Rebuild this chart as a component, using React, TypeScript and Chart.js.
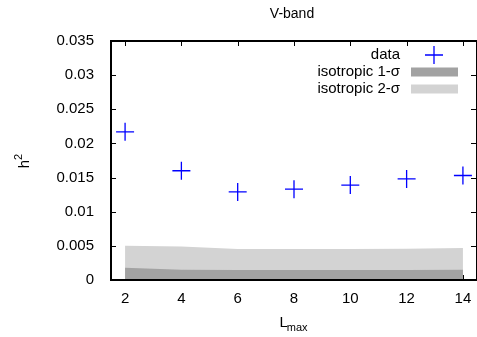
import React, { useEffect, useRef } from "react";
import { Chart, registerables } from "chart.js";

Chart.register(...registerables);

const chartTitle = "V-band";
const lmax = [2, 4, 6, 8, 10, 12, 14];
const dataH2 = [0.0217, 0.016, 0.0129, 0.0133, 0.0139, 0.0148, 0.0153];
const iso1Sigma = [0.0018, 0.0015, 0.00146, 0.00146, 0.00146, 0.00146, 0.0015];
const iso2Sigma = [0.005, 0.0049, 0.00455, 0.00455, 0.00455, 0.00458, 0.0047];
const xTicks = [2, 4, 6, 8, 10, 12, 14];
const yTicks = [0, 0.005, 0.01, 0.015, 0.02, 0.025, 0.03, 0.035];
const legendLabels = ["data", "isotropic 1-σ", "isotropic 2-σ"];
const yTitle = "h";
const yTitleSup = "2";
const xTitle = "L";
const xTitleSub = "max";

const FONT = "'Liberation Sans', Arial, sans-serif";
const BLUE = "#0000ff";
const DARK = "#a2a2a2";
const LIGHT = "#d3d3d3";

function drawCross(ctx: CanvasRenderingContext2D, x: number, y: number, r: number) {
  ctx.save();
  ctx.strokeStyle = BLUE;
  ctx.lineWidth = 1.3;
  ctx.beginPath();
  ctx.moveTo(x - r, y);
  ctx.lineTo(x + r, y);
  ctx.moveTo(x, y - r);
  ctx.lineTo(x, y + r);
  ctx.stroke();
  ctx.restore();
}

const decor = {
  id: "decor",
  beforeDatasetsDraw(chart: any) {
    const { ctx, chartArea: a, scales } = chart;
    ctx.save();
    ctx.strokeStyle = "#000";
    ctx.lineWidth = 1;
    const tl = 5;
    ctx.beginPath();
    for (const v of yTicks) {
      const y = Math.round(scales.y.getPixelForValue(v)) + 0.5;
      ctx.moveTo(a.left, y);
      ctx.lineTo(a.left + tl, y);
      ctx.moveTo(a.right, y);
      ctx.lineTo(a.right - tl - 1, y);
    }
    for (const v of xTicks) {
      const x = Math.round(scales.x.getPixelForValue(v)) + 0.5;
      ctx.moveTo(x, a.top);
      ctx.lineTo(x, a.top + tl);
      ctx.moveTo(x, a.bottom);
      ctx.lineTo(x, a.bottom - tl);
    }
    ctx.stroke();
    ctx.restore();
  },
  afterDatasetsDraw(chart: any) {
    const { ctx, chartArea: a } = chart;
    ctx.save();
    ctx.strokeStyle = "#000";
    ctx.lineWidth = 2;
    ctx.strokeRect(a.left, a.top, a.right - a.left, a.bottom - a.top);
    ctx.restore();
  },
  afterDraw(chart: any) {
    const { ctx, scales } = chart;
    ctx.save();
    ctx.fillStyle = "#000";
    ctx.font = `14px ${FONT}`;
    ctx.textAlign = "center";
    ctx.textBaseline = "middle";
    ctx.fillText(chartTitle, 292, 14);

    // x tick labels
    ctx.font = `15px ${FONT}`;
    ctx.textAlign = "center";
    ctx.textBaseline = "alphabetic";
    for (const v of xTicks) {
      ctx.fillText(String(v), scales.x.getPixelForValue(v), 303);
    }

    ctx.save();
    ctx.translate(24, 161);
    ctx.rotate(-Math.PI / 2);
    ctx.font = `15px ${FONT}`;
    ctx.textAlign = "left";
    ctx.textBaseline = "alphabetic";
    const hw = ctx.measureText(yTitle).width;
    ctx.font = `11px ${FONT}`;
    const sw = ctx.measureText(yTitleSup).width;
    const start = -(hw + sw) / 2;
    ctx.font = `15px ${FONT}`;
    ctx.fillText(yTitle, start, 5);
    ctx.font = `11px ${FONT}`;
    ctx.fillText(yTitleSup, start + hw, -2);
    ctx.restore();

    ctx.font = `15px ${FONT}`;
    ctx.textAlign = "left";
    ctx.textBaseline = "alphabetic";
    const lw = ctx.measureText(xTitle).width;
    ctx.font = `11px ${FONT}`;
    const mw = ctx.measureText(xTitleSub).width;
    const xs = 294 - (lw + mw) / 2;
    ctx.font = `15px ${FONT}`;
    ctx.fillText(xTitle, xs, 327);
    ctx.font = `11px ${FONT}`;
    ctx.fillText(xTitleSub, xs + lw - 1, 331);

    ctx.font = `15px ${FONT}`;
    ctx.textAlign = "right";
    ctx.textBaseline = "middle";
    const rows = [55, 72, 89];
    legendLabels.forEach((lab, i) => {
      ctx.fillStyle = "#000";
      ctx.fillText(lab, 400, rows[i]);
    });
    drawCross(ctx, 434, rows[0], 9);
    ctx.fillStyle = DARK;
    ctx.fillRect(411, rows[1] - 4.5, 47, 9);
    ctx.fillStyle = LIGHT;
    ctx.fillRect(411, rows[2] - 4.5, 47, 9);
    ctx.restore();
  },
};

export default function App() {
  const ref = useRef<HTMLCanvasElement | null>(null);
  useEffect(() => {
    if (!ref.current) return;
    const chart = new Chart(ref.current, {
      type: "line",
      data: {
        datasets: [
          {
            label: legendLabels[0],
            data: lmax.map((x, i) => ({ x, y: dataH2[i] })),
            showLine: false,
            pointStyle: "cross",
            pointRadius: 9,
            pointHoverRadius: 9,
            borderColor: BLUE,
            backgroundColor: BLUE,
            pointBorderWidth: 1.3,
            order: 0,
          },
          {
            label: legendLabels[1],
            data: lmax.map((x, i) => ({ x, y: iso1Sigma[i] })),
            fill: "origin",
            backgroundColor: DARK,
            borderColor: DARK,
            borderWidth: 0,
            pointRadius: 0,
            tension: 0,
            order: 1,
          },
          {
            label: legendLabels[2],
            data: lmax.map((x, i) => ({ x, y: iso2Sigma[i] })),
            fill: "origin",
            backgroundColor: LIGHT,
            borderColor: LIGHT,
            borderWidth: 0,
            pointRadius: 0,
            tension: 0,
            order: 2,
          },
        ],
      },
      options: {
        responsive: false,
        animation: false,
        events: [],
        layout: { autoPadding: false, padding: { top: 41, right: -1, left: 0, bottom: 0 } },
        plugins: {
          legend: { display: false },
          title: { display: false },
          tooltip: { enabled: false },
        },
        scales: {
          x: {
            type: "linear",
            min: 1.5,
            max: 14.5,
            grid: { display: false },
            border: { display: false },
            afterBuildTicks: (s: any) => {
              s.ticks = xTicks.map((v) => ({ value: v }));
            },
            afterFit: (s: any) => {
              s.height = 57;
            },
            ticks: { display: false },
          },
          y: {
            type: "linear",
            min: 0,
            max: 0.035,
            grid: { display: false },
            border: { display: false },
            afterBuildTicks: (s: any) => {
              s.ticks = yTicks.map((v) => ({ value: v }));
            },
            afterFit: (s: any) => {
              s.width = 111;
              s.paddingTop = 0;
              s.paddingBottom = 0;
            },
            ticks: {
              padding: 9,
              color: "#000",
              font: { family: FONT, size: 15 },
              callback: (v: any) => String(Number(Number(v).toFixed(3))),
            },
          },
        },
      },
      plugins: [decor],
    });
    return () => chart.destroy();
  }, []);
  return (
    <div style={{ position: "fixed", left: 0, top: 0, width: 477, height: 337, background: "#fff" }}>
      <canvas ref={ref} width={477} height={337} style={{ display: "block" }} />
    </div>
  );
}
